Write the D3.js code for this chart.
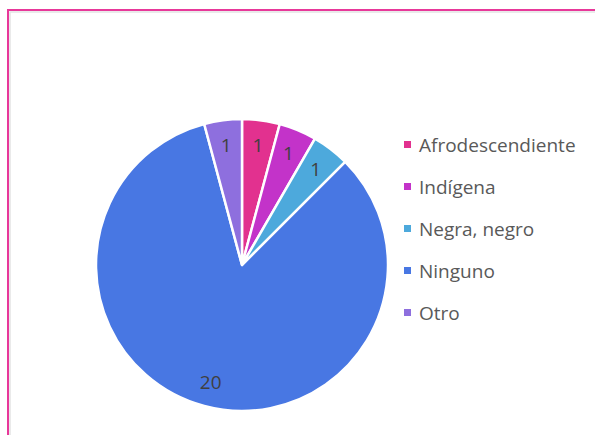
<!DOCTYPE html>
<html>
<head>
<meta charset="utf-8">
<script src="https://cdn.jsdelivr.net/npm/d3@7"></script>
<style>
  body { margin: 0; background: #fff; }
  svg { display: block; }
</style>
</head>
<body>
<div id="chart"></div>
<script>
const categories = ["Afrodescendiente", "Indígena", "Negra, negro", "Ninguno", "Otro"];
const values = [1, 1, 1, 20, 1];
const colors = ["#e2318f", "#c333c9", "#4da9dc", "#4877e3", "#8e6fde"];

const W = 595, H = 435;
const cx = 242, cy = 265, r = 146;

const svg = d3.select("#chart").append("svg")
    .attr("width", W)
    .attr("height", H);

// frame
svg.append("rect")
    .attr("x", 10).attr("y", 12)
    .attr("width", W).attr("height", H)
    .attr("fill", "none")
    .attr("stroke", "#e4e4e4")
    .attr("stroke-width", 1.5);
svg.append("path")
    .attr("d", `M8,${H} V10 H${W}`)
    .attr("fill", "none")
    .attr("stroke", "#e8389a")
    .attr("stroke-width", 2);

const data = categories.map((c, i) => ({ name: c, value: values[i], color: colors[i] }));

const pie = d3.pie().value(d => d.value).sort(null);
const arc = d3.arc().innerRadius(0).outerRadius(r);
const labelArc = d3.arc().innerRadius(r * 0.83).outerRadius(r * 0.83);

const g = svg.append("g").attr("transform", `translate(${cx},${cy})`);

g.selectAll("path.slice")
    .data(pie(data))
    .enter()
    .append("path")
    .attr("class", "slice")
    .attr("d", arc)
    .attr("fill", d => d.data.color)
    .attr("stroke", "#fff")
    .attr("stroke-width", 2.5)
    .attr("stroke-linejoin", "round");

g.selectAll("text.lbl")
    .data(pie(data))
    .enter()
    .append("text")
    .attr("class", "lbl")
    .attr("transform", d => `translate(${labelArc.centroid(d)})`)
    .attr("text-anchor", "middle")
    .attr("dy", "0.35em")
    .attr("font-family", "Open Sans, DejaVu Sans, sans-serif")
    .attr("font-size", 19)
    .attr("fill", "#404040")
    .text(d => d.data.value);

// legend
const legend = svg.append("g").attr("transform", "translate(404,145)");
const item = legend.selectAll("g")
    .data(data)
    .enter()
    .append("g")
    .attr("transform", (d, i) => `translate(0,${i * 42})`);

item.append("rect")
    .attr("x", 0).attr("y", -4)
    .attr("width", 7).attr("height", 7)
    .attr("fill", d => d.color);

item.append("text")
    .attr("x", 15)
    .attr("y", 0)
    .attr("dy", "0.35em")
    .attr("font-family", "Open Sans, DejaVu Sans, sans-serif")
    .attr("font-size", 19)
    .attr("fill", "#595959")
    .text(d => d.name);
</script>
</body>
</html>
